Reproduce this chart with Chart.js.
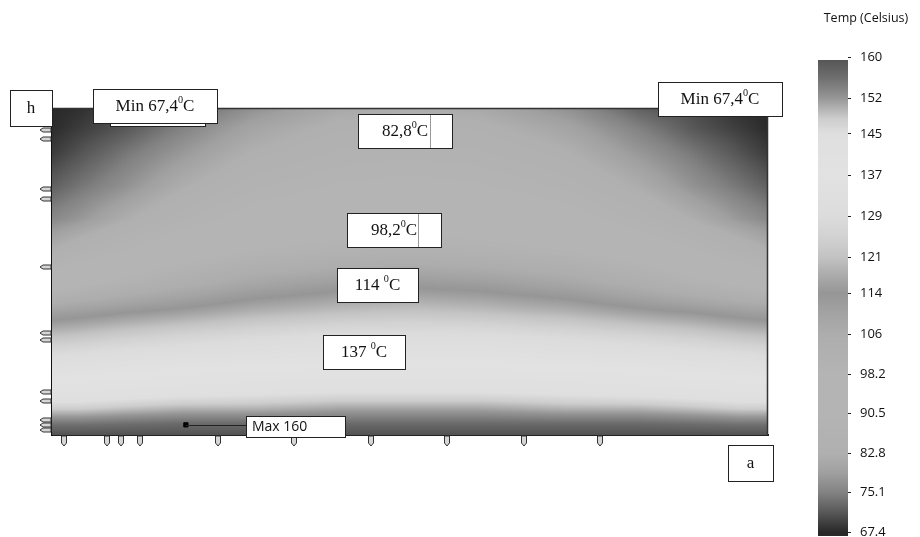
<!DOCTYPE html>
<html>
<head>
<meta charset="utf-8">
<script src="https://cdn.jsdelivr.net/npm/chart.js@4.4.0/dist/chart.umd.min.js"></script>
<style>
html, body { margin: 0; padding: 0; background: #fff; overflow: hidden; }
#wrap { position: relative; width: 920px; height: 537px; overflow: hidden; }
#fieldBox { position: absolute; left: 0; top: 0; width: 800px; height: 537px; }
#barBox { position: absolute; left: 800px; top: 0; width: 120px; height: 549px; }
</style>
</head>
<body>
<div id="wrap">
    <div id="fieldBox"><canvas id="field"></canvas></div>
    <div id="barBox"><canvas id="bar"></canvas></div>
</div>
<script>
// field sample grid: columns in % of width a, rows in % of height h (top row first)
const xCols = [0, 4, 10, 18, 28, 40, 50, 60, 72, 82, 90, 96, 100];
const yRows = [100, 94, 86, 76, 66, 56, 46, 38, 30, 22, 14, 8, 3, 0];
const tempGrid = [
    [67.4, 68, 70, 72, 77, 81, 82, 81, 77, 72, 70, 68, 67.4],
    [67.6, 69, 71, 75, 80, 83.5, 84, 83.5, 80, 75, 71, 69, 67.6],
    [69, 71, 74, 78, 83, 86, 87, 86, 83, 78, 74, 71, 69],
    [72, 74, 77, 82, 87, 90, 91, 90, 87, 82, 77, 74, 72],
    [76, 78, 82, 87, 92, 95, 96, 95, 92, 87, 82, 78, 76],
    [83, 86, 90, 95, 99, 101, 102, 101, 99, 95, 90, 86, 83],
    [95, 98, 101, 105, 109, 112, 113, 112, 109, 105, 101, 98, 95],
    [110, 111, 113, 115, 118, 120, 121, 120, 118, 115, 113, 111, 110],
    [121, 122, 124, 126, 128, 130, 130, 130, 128, 126, 124, 122, 121],
    [132, 133, 134, 135, 136, 137, 137, 137, 136, 135, 134, 133, 132],
    [140, 140, 141, 142, 143, 144, 144, 144, 143, 142, 141, 140, 140],
    [148, 148, 149, 150, 150, 151, 151, 151, 150, 150, 149, 148, 148],
    [156, 156, 156.5, 157, 157, 157, 157, 157, 157, 157, 156.5, 156, 156],
    [160, 160, 160, 160, 160, 160, 160, 160, 160, 160, 160, 160, 160]
];

// colour scale (grey level for a temperature)
const mapTemps = [67.4, 71, 75.1, 79, 82.8, 90.5, 98.2, 106, 110, 114, 117, 121, 125, 129, 137, 145, 148, 152, 156, 160];
const mapGrays = [40, 85, 130, 160, 176, 180, 180, 173, 163, 150, 168, 195, 210, 220, 226, 223, 205, 150, 110, 82];

const barTicks = [160, 152, 145, 137, 129, 121, 114, 106, 98.2, 90.5, 82.8, 75.1, 67.4];
const tickLabels = ['160', '152', '145', '137', '129', '121', '114', '106', '98.2', '90.5', '82.8', '75.1', '67.4'];

// probe positions along the edges (% of a, % of h)
const probeX = [1.7, 7.7, 9.6, 12.3, 23.2, 33.8, 44.6, 55.2, 65.9, 76.5];
const probeY = [93.3, 90.5, 75.2, 72.2, 51.4, 31.2, 29.0, 13.1, 10.4, 4.6, 3.1, 1.5];

const maxPoint = [{ x: 18.7, y: 3.1 }];

function grayFor(t) {
    if (t <= mapTemps[0]) return mapGrays[0];
    for (let i = 0; i < mapTemps.length - 1; i++) {
        if (t <= mapTemps[i + 1]) {
            const f = (t - mapTemps[i]) / (mapTemps[i + 1] - mapTemps[i]);
            return mapGrays[i] + f * (mapGrays[i + 1] - mapGrays[i]);
        }
    }
    return mapGrays[mapGrays.length - 1];
}

function tempAt(x, y) {
    let i = 0;
    while (i < xCols.length - 2 && x > xCols[i + 1]) i++;
    let j = 0;
    while (j < yRows.length - 2 && y < yRows[j + 1]) j++;
    const fx = Math.min(1, Math.max(0, (x - xCols[i]) / (xCols[i + 1] - xCols[i])));
    const fy = Math.min(1, Math.max(0, (yRows[j] - y) / (yRows[j] - yRows[j + 1])));
    const a = tempGrid[j][i], b = tempGrid[j][i + 1];
    const c = tempGrid[j + 1][i], d = tempGrid[j + 1][i + 1];
    return (a * (1 - fx) + b * fx) * (1 - fy) + (c * (1 - fx) + d * fx) * fy;
}

const fieldPlugin = {
    id: 'field',
    beforeDatasetsDraw(chart) {
        const { ctx, chartArea: area, scales } = chart;
        const w = Math.round(area.right - area.left);
        const h = Math.round(area.bottom - area.top);
        const img = ctx.createImageData(w, h);
        const xs = [], ys = [];
        for (let px = 0; px < w; px++) xs.push(scales.x.getValueForPixel(area.left + px + 0.5));
        for (let py = 0; py < h; py++) ys.push(scales.y.getValueForPixel(area.top + py + 0.5));
        for (let py = 0; py < h; py++) {
            for (let px = 0; px < w; px++) {
                const g = grayFor(tempAt(xs[px], ys[py]));
                const k = (py * w + px) * 4;
                img.data[k] = g; img.data[k + 1] = g; img.data[k + 2] = g; img.data[k + 3] = 255;
            }
        }
        ctx.putImageData(img, Math.round(area.left), Math.round(area.top));
        ctx.save();
        ctx.strokeStyle = '#333';
        ctx.lineWidth = 1.5;
        ctx.beginPath();
        ctx.moveTo(area.left, area.top + 0.5);
        ctx.lineTo(area.right - 0.5, area.top + 0.5);
        ctx.lineTo(area.right - 0.5, area.bottom);
        ctx.stroke();
        ctx.restore();
    },
    afterDraw(chart) {
        // probe pins at the tick positions
        const { ctx, chartArea: area, scales } = chart;
        ctx.save();
        ctx.fillStyle = '#d6d6d6';
        ctx.strokeStyle = '#333';
        ctx.lineWidth = 1;
        scales.x.ticks.forEach(t => {
            const x = Math.round(scales.x.getPixelForValue(t.value));
            ctx.beginPath();
            ctx.moveTo(x - 2.5, area.bottom + 1);
            ctx.lineTo(x + 2.5, area.bottom + 1);
            ctx.lineTo(x + 2.5, area.bottom + 8);
            ctx.lineTo(x, area.bottom + 11);
            ctx.lineTo(x - 2.5, area.bottom + 8);
            ctx.closePath();
            ctx.fill();
            ctx.stroke();
        });
        scales.y.ticks.forEach(t => {
            const y = Math.round(scales.y.getPixelForValue(t.value));
            ctx.beginPath();
            ctx.moveTo(area.left - 1, y - 2);
            ctx.lineTo(area.left - 1, y + 2);
            ctx.lineTo(area.left - 9, y + 2);
            ctx.lineTo(area.left - 12, y);
            ctx.lineTo(area.left - 9, y - 2);
            ctx.closePath();
            ctx.fill();
            ctx.stroke();
        });
        ctx.restore();
    }
};

function drawParts(ctx, parts, cx, cy, size) {
    let total = 0;
    parts.forEach(p => {
        ctx.font = (p[1] ? size * 0.6 : size) + 'px "Liberation Serif", serif';
        total += ctx.measureText(p[0]).width;
    });
    let x = cx - total / 2;
    ctx.textBaseline = 'middle';
    ctx.textAlign = 'left';
    parts.forEach(p => {
        ctx.font = (p[1] ? size * 0.6 : size) + 'px "Liberation Serif", serif';
        ctx.fillText(p[0], x, p[1] ? cy - size * 0.32 : cy + 1);
        x += ctx.measureText(p[0]).width;
    });
}

const boxes = [
    { x: 10, y: 90, w: 42, h: 36, parts: [['h']] },
    { x: 110, y: 118, w: 95, h: 8, parts: [] },
    { x: 93, y: 89, w: 124, h: 34, parts: [['Min 67,4'], ['0', true], ['C']] },
    { x: 658, y: 82, w: 124, h: 34, parts: [['Min 67,4'], ['0', true], ['C']] },
    { x: 358, y: 114, w: 94, h: 34, parts: [['82,8'], ['0', true], ['C']], split: 430 },
    { x: 347, y: 213, w: 94, h: 34, parts: [['98,2'], ['0', true], ['C']], split: 418 },
    { x: 337, y: 268, w: 81, h: 34, parts: [['114 '], ['0', true], ['C']] },
    { x: 323, y: 335, w: 82, h: 34, parts: [['137 '], ['0', true], ['C']] },
    { x: 728, y: 445, w: 45, h: 36, parts: [['a']] }
];

const labelPlugin = {
    id: 'labels',
    afterDraw(chart) {
        const ctx = chart.ctx;
        ctx.save();
        boxes.forEach(b => {
            ctx.fillStyle = '#fff';
            ctx.fillRect(b.x, b.y, b.w, b.h);
            ctx.strokeStyle = '#222';
            ctx.lineWidth = 1;
            ctx.strokeRect(b.x + 0.5, b.y + 0.5, b.w, b.h);
            if (b.split) {
                ctx.strokeStyle = '#999';
                ctx.beginPath();
                ctx.moveTo(b.split + 0.5, b.y + 1);
                ctx.lineTo(b.split + 0.5, b.y + b.h);
                ctx.stroke();
            }
            ctx.fillStyle = '#111';
            drawParts(ctx, b.parts, b.x + b.w / 2, b.y + b.h / 2, 17);
        });
        // max marker label
        const p = chart.getDatasetMeta(0).data[0];
        ctx.strokeStyle = '#222';
        ctx.beginPath();
        ctx.moveTo(p.x, Math.round(p.y) + 0.5);
        ctx.lineTo(246, Math.round(p.y) + 0.5);
        ctx.stroke();
        ctx.fillStyle = '#fff';
        ctx.fillRect(246, 416, 99, 21);
        ctx.strokeRect(246.5, 416.5, 99, 21);
        ctx.fillStyle = '#111';
        ctx.font = '14px "Open Sans", sans-serif';
        ctx.textBaseline = 'middle';
        ctx.fillText('Max 160', 252, 427);
        ctx.restore();
    }
};

new Chart(document.getElementById('field'), {
    type: 'scatter',
    data: {
        datasets: [{
            data: maxPoint,
            pointStyle: 'rect',
            pointRadius: 3,
            backgroundColor: '#000',
            borderColor: '#000'
        }]
    },
    options: {
        responsive: true,
        maintainAspectRatio: false,
        animation: false,
        layout: { padding: { left: 40, top: 108, right: 32, bottom: 90 } },
        plugins: { legend: { display: false }, tooltip: { enabled: false } },
        scales: {
            x: {
                type: 'linear', min: 0, max: 100,
                afterBuildTicks: s => { s.ticks = probeX.map(v => ({ value: v })); },
                afterFit: s => { s.height = 12; },
                ticks: { display: false },
                grid: { drawOnChartArea: false, drawTicks: false },
                border: { color: '#222', width: 2 }
            },
            y: {
                type: 'linear', min: 0, max: 100,
                afterBuildTicks: s => { s.ticks = probeY.map(v => ({ value: v })); },
                afterFit: s => { s.width = 12; },
                ticks: { display: false },
                grid: { drawOnChartArea: false, drawTicks: false },
                border: { color: '#111', width: 2 }
            }
        }
    },
    plugins: [fieldPlugin, labelPlugin]
});

const barPlugin = {
    id: 'colorbar',
    beforeDatasetsDraw(chart) {
        const { ctx, chartArea: area, scales } = chart;
        const top = 60, bottom = 536;
        for (let py = top; py < bottom; py++) {
            let v = scales.y.getValueForPixel(py + 0.5);
            v = Math.min(160, Math.max(67.4, v));
            const g = Math.round(grayFor(v));
            ctx.fillStyle = 'rgb(' + g + ',' + g + ',' + g + ')';
            ctx.fillRect(area.left, py, area.right - area.left, 1);
        }
        ctx.save();
        ctx.fillStyle = '#111';
        ctx.font = '12.5px "Open Sans", sans-serif';
        ctx.textAlign = 'center';
        ctx.textBaseline = 'middle';
        ctx.fillText('Temp (Celsius)', area.left + 48, 18);
        ctx.restore();
    }
};

new Chart(document.getElementById('bar'), {
    type: 'scatter',
    data: { datasets: [{ data: [] }] },
    options: {
        responsive: true,
        maintainAspectRatio: false,
        animation: false,
        layout: { padding: { left: 18, top: 57, right: 0, bottom: 0 } },
        plugins: { legend: { display: false }, tooltip: { enabled: false } },
        scales: {
            x: { display: false, min: 0, max: 1 },
            y: {
                position: 'right', min: 67.4, max: 160,
                afterBuildTicks: s => { s.ticks = barTicks.map(v => ({ value: v })); },
                afterFit: s => { s.width = 72; },
                ticks: {
                    callback: (v, i) => tickLabels[i],
                    color: '#111',
                    padding: 9,
                    font: { family: '"Open Sans", sans-serif', size: 13 }
                },
                grid: { drawOnChartArea: false, tickLength: 3, color: '#222' },
                border: { display: false }
            }
        }
    },
    plugins: [barPlugin]
});
</script>
</body>
</html>
